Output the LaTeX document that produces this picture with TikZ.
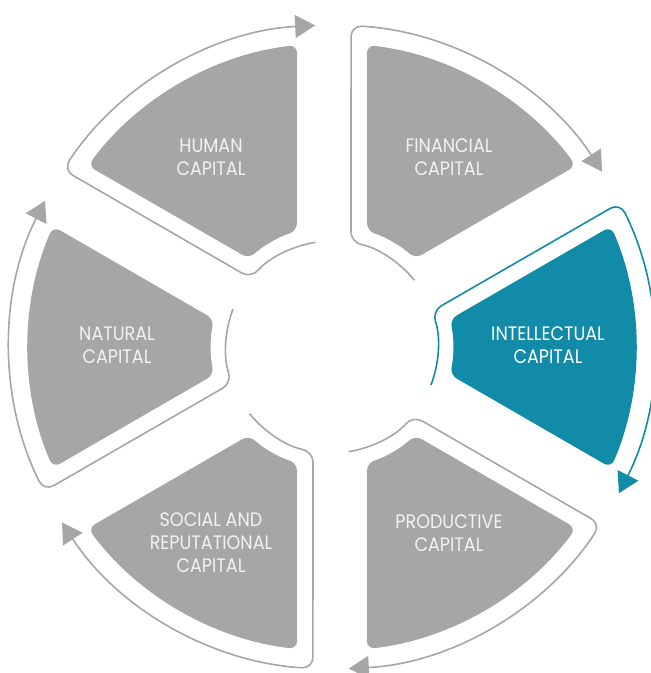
\documentclass[tikz,border=0pt]{standalone}
\usepackage{fontspec}
\setmainfont{Poppins}[FakeStretch=0.9]
\usepackage{tikz}
\usetikzlibrary{arrows.meta}
\definecolor{capgrey}{HTML}{A6A6A6}
\definecolor{capteal}{HTML}{118BA8}
\definecolor{captext}{HTML}{F2F2F2}
\tikzstyle{wedge}=[rounded corners=8pt]
\tikzstyle{ring}=[line width=1.6pt, rounded corners=11pt, -{Triangle[length=20pt,width=23pt]}]
\tikzstyle{lbl}=[align=center, text=captext, inner sep=0pt, font=\fontsize{19.5}{23}\selectfont]

\begin{document}
\begin{tikzpicture}[x=1pt, y=1pt]
\useasboundingbox (-332,-326) rectangle (319,347);
%
% open outlines ending in an arrow, clockwise
  \foreach \m/\col in {120/capgrey, 60/capgrey, 0/capteal, -60/capgrey, -120/capgrey, 180/capgrey} {
    \pgfmathsetmacro{\s}{\m+30}
    \pgfmathsetmacro{\e}{\m-30}
    \draw[ring, draw=\col] ({\e+9}:106pt) arc[start angle=\e+9, end angle=\s-10.3, radius=106pt]
      -- ({\s-3.4}:322pt) arc[start angle=\s-3.4, end angle=\e+3, radius=322pt];
  }
%
% the six segments
  \foreach \m/\col in {120/capgrey, 60/capgrey, 0/capteal, -60/capgrey, -120/capgrey, 180/capgrey} {
    \pgfmathsetmacro{\s}{\m+30}
    \pgfmathsetmacro{\e}{\m-30}
    \fill[wedge, fill=\col] ({\s-6.6}:304pt) arc[start angle=\s-6.6, end angle=\e+6.6, radius=304pt]
      -- ({\e+16.8}:121pt) arc[start angle=\e+16.8, end angle=\s-16.8, radius=121pt] -- cycle;
  }
%
  \node[lbl] (human) at (-121,190) {HUMAN\\CAPITAL};
  \node[lbl] (financial) at (117,190) {FINANCIAL\\CAPITAL};
  \node[lbl, text=white] (intellectual) at (216,2) {INTELLECTUAL\\CAPITAL};
  \node[lbl] (productive) at (117,-186) {PRODUCTIVE\\CAPITAL};
  \node[lbl] (social) at (-121,-196) {SOCIAL AND\\REPUTATIONAL\\CAPITAL};
  \node[lbl] (natural) at (-215,2) {NATURAL\\CAPITAL};
%
\end{tikzpicture}
\end{document}
